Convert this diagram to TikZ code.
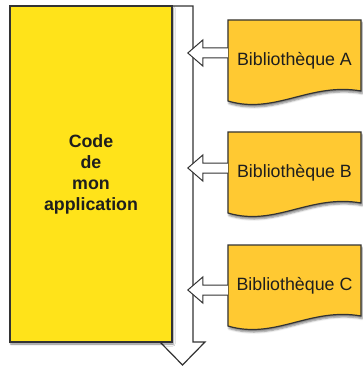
\documentclass[tikz,border=0pt]{standalone}
\usepackage{fontspec}
\setmainfont{Liberation Sans}
\usetikzlibrary{calc,shadows.blur}
\definecolor{appyellow}{RGB}{255,227,26}
\definecolor{libyellow}{RGB}{255,201,50}
\definecolor{edge}{RGB}{51,51,51}
\definecolor{ink}{RGB}{30,30,30}
\begin{document}
\begin{tikzpicture}[x=1pt, y=-1pt,
		app/.style = {rectangle, draw=edge, fill=appyellow, line width=1.2pt, minimum width=162, minimum height=336, align=center, text=ink, font=\fontsize{17.8}{21}\selectfont\bfseries, blur shadow={shadow xshift=1pt, shadow yshift=-2pt, shadow blur radius=2pt, shadow opacity=50}},
		doc/.style = {draw=edge, fill=libyellow, line width=1.2pt, blur shadow={shadow xshift=1pt, shadow yshift=-2.5pt, shadow blur radius=2pt, shadow opacity=50}},
		lib/.style = {rectangle, minimum width=133, minimum height=81, inner sep=0pt, text=ink, font=\fontsize{17.8}{21}\selectfont},
		bus/.style = {draw=edge, fill=white, line width=1.2pt, line join=miter},
		link/.style = {draw=edge, fill=white, line width=1pt, line join=miter},
		]
		\useasboundingbox (0,0) rectangle (362,366);
		
		%Bus
		\draw[bus]	(172,6) -- (193,6) -- (193,342) -- (205,342) -- (182.5,365) -- (160,342) -- (172,342) -- cycle;
		
		%Nodes
		\node[app]	(app)	at	(91,174)	{Code\\de\\mon\\application};
		
		%Libraries
		\foreach \lbl/\ytop/\dy in {A/20/-7.5, B/132/-4.5, C/245/4.5} {
			\path[doc]	(228,\ytop) -- (361,\ytop) -- (361,\ytop+71) .. controls (310,\ytop+62) and (275,\ytop+95) .. (228,\ytop+81) -- cycle;
			\node[lib]	(lib\lbl)	at	(294.5,\ytop+40.5)	{Bibliothèque \lbl};
			\coordinate	(out\lbl)	at	($(lib\lbl.west)+(0,\dy)$);
			\draw[link]	(out\lbl) ++(0,-5) -- ++(-25,0) -- ++(0,-8) -- ++(-15,13) -- ++(15,13) -- ++(0,-8) -- ++(25,0);
		}
	\end{tikzpicture}
\end{document}
